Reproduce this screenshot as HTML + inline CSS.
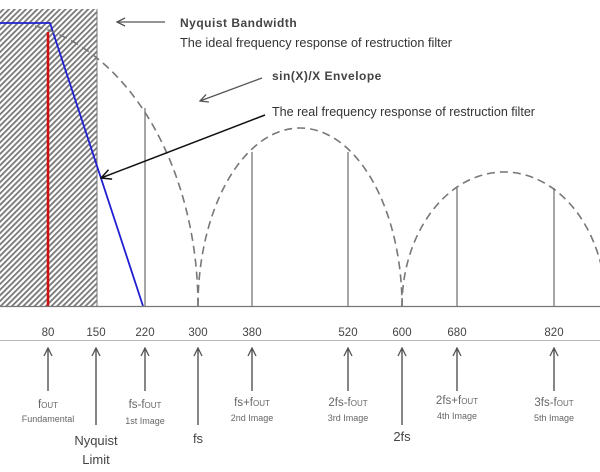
<!DOCTYPE html>
<html><head><style>
body{margin:0;background:#fff;}
svg{display:block;font-family:"Liberation Sans",sans-serif;}
</style></head><body>
<svg width="600" height="472" viewBox="0 0 600 472" xmlns="http://www.w3.org/2000/svg">
<defs>
<pattern id="h" width="4" height="4" patternUnits="userSpaceOnUse" patternTransform="rotate(45)">
<rect width="4" height="4" fill="#fff"/><rect width="1.8" height="4" fill="#777"/>
</pattern>
<marker id="a" markerWidth="10" markerHeight="10" refX="1" refY="5" orient="auto" markerUnits="userSpaceOnUse">
<path d="M9,1 L1,5 L9,9" fill="none" stroke="#555" stroke-width="1.3"/>
</marker>
<marker id="ab" markerWidth="12" markerHeight="12" refX="1" refY="6" orient="auto" markerUnits="userSpaceOnUse">
<path d="M11,1 L1,6 L11,11" fill="none" stroke="#111" stroke-width="1.5"/>
</marker>
</defs>
<rect x="0" y="9" width="97" height="297" fill="url(#h)"/>
<line x1="97" y1="9" x2="97" y2="306" stroke="#777" stroke-width="1"/>
<line x1="48" y1="32" x2="48" y2="306" stroke="#d01010" stroke-width="2.5"/>
<polyline points="0,23 50,23 143,306" fill="none" stroke="#2020d0" stroke-width="1.8"/>
<g stroke="#777" stroke-width="1.6" fill="none" stroke-dasharray="8,5">
<path d="M35,26 A198,285 0 0 1 198,306"/>
<path d="M198,306 A102,178 0 0 1 402,306"/>
<path d="M402,306 A102,134 0 0 1 606,306"/>
</g>
<g stroke="#777" stroke-width="1.3">
<line x1="145" y1="108" x2="145" y2="306"/>
<line x1="252" y1="152" x2="252" y2="306"/>
<line x1="348" y1="152" x2="348" y2="306"/>
<line x1="457" y1="188" x2="457" y2="306"/>
<line x1="554" y1="188" x2="554" y2="306"/>
</g>
<line x1="0" y1="306.5" x2="600" y2="306.5" stroke="#777" stroke-width="1.3"/>
<line x1="0" y1="340.5" x2="600" y2="340.5" stroke="#bbb" stroke-width="1"/>
<line x1="117" y1="22" x2="165" y2="22" stroke="#555" stroke-width="1.3" marker-start="url(#a)"/>
<line x1="200" y1="101" x2="262" y2="78" stroke="#555" stroke-width="1.3" marker-start="url(#a)"/>
<line x1="101" y1="178" x2="265" y2="115" stroke="#111" stroke-width="1.5" marker-start="url(#ab)"/>
<g font-size="12.6" fill="#333">
<text x="180" y="27" font-weight="bold" font-size="12" fill="#444" letter-spacing="0.5">Nyquist Bandwidth</text>
<text x="180" y="47" textLength="272" lengthAdjust="spacingAndGlyphs">The ideal frequency response of restruction filter</text>
<text x="272" y="80" font-weight="bold" font-size="12" fill="#444" letter-spacing="0.5">sin(X)/X Envelope</text>
<text x="272" y="116" textLength="263" lengthAdjust="spacingAndGlyphs">The real frequency response of restruction filter</text>
</g>
<g font-size="11.5" fill="#444" text-anchor="middle">
<text x="48" y="336">80</text><text x="96" y="336">150</text><text x="145" y="336">220</text>
<text x="198" y="336">300</text><text x="252" y="336">380</text><text x="348" y="336">520</text>
<text x="402" y="336">600</text><text x="457" y="336">680</text><text x="554" y="336">820</text>
</g>
<g stroke="#444" stroke-width="1.3">
<line x1="48" y1="348" x2="48" y2="391" marker-start="url(#a)"/>
<line x1="96" y1="348" x2="96" y2="425" marker-start="url(#a)"/>
<line x1="145" y1="348" x2="145" y2="391" marker-start="url(#a)"/>
<line x1="198" y1="348" x2="198" y2="425" marker-start="url(#a)"/>
<line x1="252" y1="348" x2="252" y2="391" marker-start="url(#a)"/>
<line x1="348" y1="348" x2="348" y2="391" marker-start="url(#a)"/>
<line x1="402" y1="348" x2="402" y2="425" marker-start="url(#a)"/>
<line x1="457" y1="348" x2="457" y2="391" marker-start="url(#a)"/>
<line x1="554" y1="348" x2="554" y2="391" marker-start="url(#a)"/>
</g>
<g fill="#666" text-anchor="middle">
<text x="48" y="408" font-size="11.5">f<tspan font-size="8">OUT</tspan></text>
<text x="48" y="422" font-size="9">Fundamental</text>
<text x="145" y="408" font-size="11.5">fs-f<tspan font-size="8">OUT</tspan></text>
<text x="145" y="424" font-size="9">1st Image</text>
<text x="252" y="406" font-size="11.5">fs+f<tspan font-size="8">OUT</tspan></text>
<text x="252" y="421" font-size="9">2nd Image</text>
<text x="348" y="406" font-size="11.5">2fs-f<tspan font-size="8">OUT</tspan></text>
<text x="348" y="421" font-size="9">3rd Image</text>
<text x="457" y="404" font-size="11.5">2fs+f<tspan font-size="8">OUT</tspan></text>
<text x="457" y="419" font-size="9">4th Image</text>
<text x="554" y="406" font-size="11.5">3fs-f<tspan font-size="8">OUT</tspan></text>
<text x="554" y="421" font-size="9">5th Image</text>
</g>
<g fill="#444" font-size="13" text-anchor="middle">
<text x="96" y="445">Nyquist</text>
<text x="96" y="464">Limit</text>
<text x="198" y="443">fs</text>
<text x="402" y="441">2fs</text>
</g>
</svg>
</body></html>
